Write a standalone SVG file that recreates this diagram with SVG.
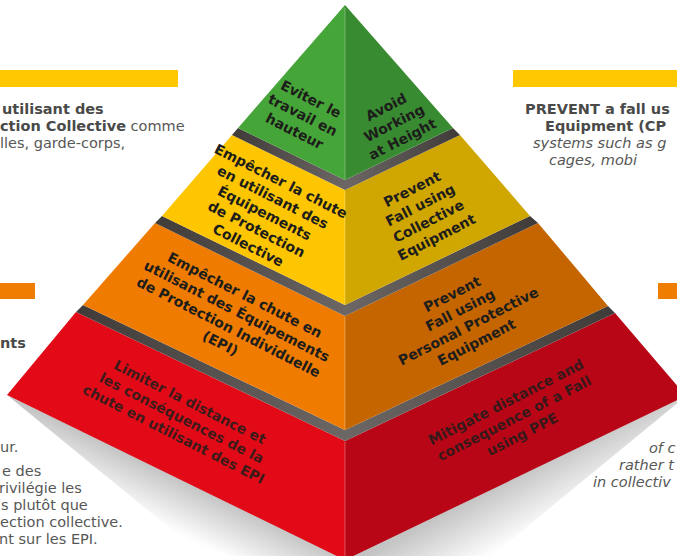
<svg xmlns="http://www.w3.org/2000/svg" width="677" height="556" viewBox="0 0 677 556">
<style>
.pt{font-family:"DejaVu Sans",sans-serif;font-weight:bold;font-size:14px;fill:#1d1d1b;text-anchor:middle}
.side{font-family:"DejaVu Sans",sans-serif;font-size:14.5px;fill:#575756}
.b{font-weight:bold;fill:#4a4a49}
.it{font-style:italic}
.hl{stroke:#ffffff;stroke-opacity:0.3;stroke-width:1}
</style>
<defs>
<linearGradient id="band" x1="0" y1="0" x2="1" y2="0">
<stop offset="0" stop-color="#3f3b39"/>
<stop offset="0.5" stop-color="#6c6764"/>
<stop offset="1" stop-color="#3f3b39"/>
</linearGradient>
<linearGradient id="shL" gradientUnits="userSpaceOnUse" x1="200" y1="488" x2="178" y2="534">
<stop offset="0" stop-color="#c4c4c4"/>
<stop offset="1" stop-color="#ffffff"/>
</linearGradient>
<linearGradient id="shR" gradientUnits="userSpaceOnUse" x1="510" y1="478" x2="538" y2="530">
<stop offset="0" stop-color="#c4c4c4"/>
<stop offset="1" stop-color="#ffffff"/>
</linearGradient>
</defs>
<rect width="677" height="556" fill="#ffffff"/>

<g id="side-left">
<rect x="0" y="70" width="178" height="17" fill="#ffc800"/>
<text class="side" x="2" y="114"><tspan class="b">utilisant des</tspan></text>
<text class="side" x="0" y="131"><tspan class="b">ction Collective</tspan> comme</text>
<text class="side" x="0" y="148">lles, garde-corps,</text>
<rect x="0" y="283" width="35" height="16" fill="#ef7d00"/>
<text class="side" x="0" y="348"><tspan class="b">nts</tspan></text>
<text class="side" x="0" y="452">ur.</text>
<text class="side" x="2" y="476">e des</text>
<text class="side" x="-1" y="493">rivilégie les</text>
<text class="side" x="1" y="510">s plutôt que</text>
<text class="side" x="0" y="527">ection collective.</text>
<text class="side" x="-1" y="544">nt sur les EPI.</text>
</g>

<g id="side-right">
<rect x="513" y="70" width="164" height="17" fill="#ffc800"/>
<text class="side" x="525" y="114"><tspan class="b">PREVENT a fall us</tspan></text>
<text class="side" x="545" y="131"><tspan class="b">Equipment (CP</tspan></text>
<text class="side it" x="533" y="148">systems such as g</text>
<text class="side it" x="549" y="165">cages, mobi</text>
<rect x="658" y="283" width="19" height="16" fill="#ef7d00"/>
<text class="side it" x="649" y="453">of c</text>
<text class="side it" x="619" y="470">rather t</text>
<text class="side it" x="593" y="487">in collectiv</text>
</g>

<g id="shadow">
<polygon points="7,395 345,558 206,558" fill="url(#shL)"/>
<polygon points="686,396 345,558 489,558" fill="url(#shR)"/>
</g>

<g id="tier-red">
<polygon points="76,312 345,441 345,560 7,395" fill="#e30a17"/>
<polygon points="345,441 615,313 686,396 345,560" fill="#b80616"/>
<line class="hl" x1="345" y1="442" x2="345" y2="556"/>
<text class="pt" fill-opacity="0.85" transform="translate(190,402) rotate(27)"><tspan x="0" y="5">Limiter la distance et</tspan><tspan x="0" y="23">les conséquences de la</tspan><tspan x="0" y="41">chute en utilisant des EPI</tspan></text>
<text class="pt" fill-opacity="0.85" transform="translate(506,402) rotate(-27)"><tspan x="0" y="5">Mitigate distance and</tspan><tspan x="0" y="23">consequence of a Fall</tspan><tspan x="0" y="41">using PPE</tspan></text>
</g>

<g id="band-3">
<polygon points="83,305 345,430 608,306 615,313 345,441 76,312" fill="url(#band)"/>
</g>

<g id="tier-orange">
<polygon points="155,223 345,316 345,430 83,305" fill="#ef7c00"/>
<polygon points="345,316 538,223 608,306 345,430" fill="#c46500"/>
<line class="hl" x1="345" y1="317" x2="345" y2="429"/>
<text class="pt" transform="translate(245,295) rotate(27)"><tspan x="0" y="5">Empêcher la chute en</tspan><tspan x="0" y="23">utilisant des Équipements</tspan><tspan x="0" y="41">de Protection Individuelle</tspan><tspan x="0" y="59">(EPI)</tspan></text>
<text class="pt" transform="translate(452,294) rotate(-27)"><tspan x="0" y="5">Prevent</tspan><tspan x="0" y="23">Fall using</tspan><tspan x="0" y="41">Personal Protective</tspan><tspan x="0" y="59">Equipment</tspan></text>
</g>

<g id="band-2">
<polygon points="162,216 345,305 530,216 538,223 345,316 155,223" fill="url(#band)"/>
</g>

<g id="tier-yellow">
<polygon points="232,135 345,190 345,305 162,216" fill="#fec600"/>
<polygon points="345,190 460,135 530,216 345,305" fill="#d0a600"/>
<line class="hl" x1="345" y1="191" x2="345" y2="304"/>
<text class="pt" transform="translate(281,181) rotate(27)"><tspan x="0" y="5">Empêcher la chute</tspan><tspan x="0" y="23">en utilisant des</tspan><tspan x="0" y="41">Équipements</tspan><tspan x="0" y="59">de Protection</tspan><tspan x="0" y="77">Collective</tspan></text>
<text class="pt" transform="translate(412,189) rotate(-27)"><tspan x="0" y="5">Prevent</tspan><tspan x="0" y="23">Fall using</tspan><tspan x="0" y="41">Collective</tspan><tspan x="0" y="59">Equipment</tspan></text>
</g>

<g id="band-1">
<polygon points="238,128 345,180 453,128 460,135 345,190 232,135" fill="url(#band)"/>
</g>

<g id="tier-green">
<polygon points="345,5 238,128 345,180" fill="#46a538"/>
<polygon points="345,5 453,128 345,180" fill="#398b32"/>
<line class="hl" x1="345" y1="8" x2="345" y2="179"/>
<text class="pt" transform="translate(311,99) rotate(27)"><tspan x="0" y="5">Eviter le</tspan><tspan x="0" y="23">travail en</tspan><tspan x="0" y="41">hauteur</tspan></text>
<text class="pt" transform="translate(386,107) rotate(-27)"><tspan x="0" y="5">Avoid</tspan><tspan x="0" y="23">Working</tspan><tspan x="0" y="41">at Height</tspan></text>
</g>
</svg>
